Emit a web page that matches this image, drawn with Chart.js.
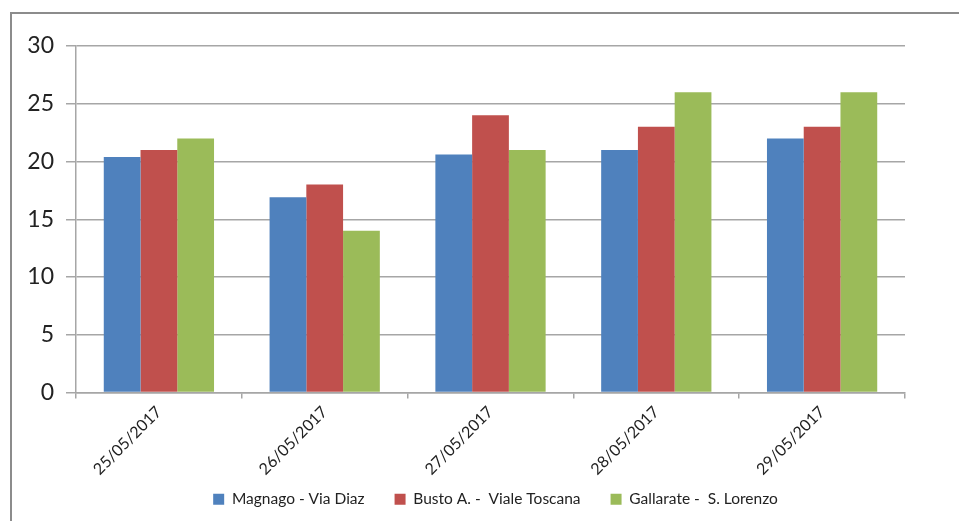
<!DOCTYPE html>
<html>
<head>
<meta charset="utf-8">
<script src="https://cdn.jsdelivr.net/npm/chart.js@4"></script>
<style>
    body { margin: 0; background: #fff; }
    #wrap { position: relative; width: 959px; height: 521px; overflow: hidden; }
    #frame { position: absolute; left: 10px; top: 12px; width: 1000px; height: 600px; border: 2px solid #8c8c8c; box-sizing: border-box; }
    canvas { position: absolute; left: 0; top: 0; }
</style>
</head>
<body>
<div id="wrap">
    <div id="frame"></div>
    <canvas id="chart" width="959" height="521"></canvas>
</div>
<script>
// 数据
const dates = ['25/05/2017', '26/05/2017', '27/05/2017', '28/05/2017', '29/05/2017'];
const magnago = [20.4, 16.9, 20.6, 21, 22];
const busto = [21, 18, 24, 23, 23];
const gallarate = [22, 14, 21, 26, 26];

const fontFamily = 'Lato, "Open Sans", sans-serif';

// 布局完成后放宽刻度标签的裁剪区域
const labelRoom = {
    id: 'labelRoom',
    afterLayout(chart) {
        chart.scales.x.bottom = chart.height;
        chart.scales.y.left = 0;
    }
};

const ctx = document.getElementById('chart').getContext('2d');
new Chart(ctx, {
    type: 'bar',
    data: {
        labels: dates,
        datasets: [
            { label: 'Magnago - Via Diaz', data: magnago, backgroundColor: '#4f81bd' },
            { label: 'Busto A. -  Viale Toscana', data: busto, backgroundColor: '#c0504d' },
            { label: 'Gallarate -  S. Lorenzo', data: gallarate, backgroundColor: '#9bbb59' }
        ]
    },
    plugins: [labelRoom],
    options: {
        responsive: false,
        animation: false,
        layout: { padding: { left: 32, right: 0, top: 46, bottom: 4 } },
        datasets: {
            bar: { categoryPercentage: 0.665, barPercentage: 1.0 }
        },
        plugins: {
            tooltip: { enabled: false },
            legend: {
                position: 'bottom',
                labels: {
                    boxWidth: 11,
                    boxHeight: 11,
                    padding: 30,
                    color: '#222',
                    font: { family: fontFamily, size: 15.5 }
                }
            }
        },
        scales: {
            x: {
                offset: true,
                grid: {
                    offset: true,
                    drawOnChartArea: false,
                    tickLength: 6,
                    color: '#a6a6a6',
                    lineWidth: 1.5
                },
                border: { color: '#a6a6a6', width: 1.5 },
                ticks: {
                    minRotation: 45,
                    maxRotation: 45,
                    padding: 4,
                    color: '#222',
                    font: { family: fontFamily, size: 16 }
                },
                afterFit(scale) { scale.height = 69; }
            },
            y: {
                min: 0,
                max: 30,
                ticks: {
                    stepSize: 5,
                    padding: 12,
                    color: '#222',
                    font: { family: fontFamily, size: 23 }
                },
                grid: { tickLength: 10, color: '#a6a6a6', lineWidth: 1.5 },
                border: { color: '#a6a6a6', width: 1.5 },
                afterFit(scale) { scale.width = 44; }
            },
            // 右侧留白
            spacer: {
                type: 'linear',
                position: 'right',
                ticks: { display: false },
                grid: { display: false },
                border: { display: false },
                afterFit(scale) { scale.width = 54; }
            }
        }
    }
});
</script>
</body>
</html>
